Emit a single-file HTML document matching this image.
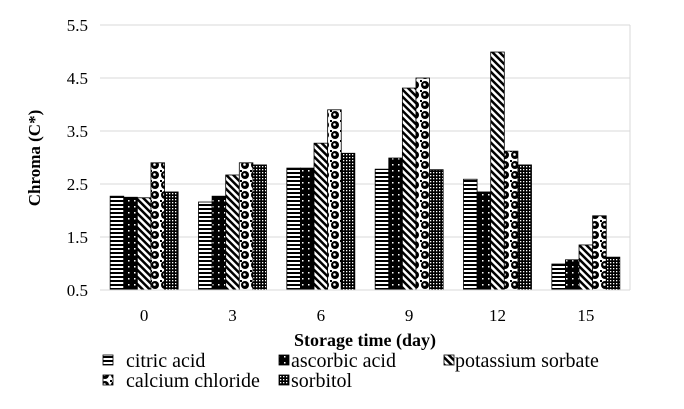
<!DOCTYPE html>
<html><head><meta charset="utf-8"><style>
html,body{margin:0;padding:0;background:#fff;}
svg{display:block;font-family:"Liberation Serif","DejaVu Serif",serif;}
text{font-family:"Liberation Serif","DejaVu Serif",serif;}
</style></head><body>
<svg id="chart" width="684" height="409">
<defs>
<pattern id="p0" width="4" height="4" patternUnits="userSpaceOnUse"><rect width="4" height="4" fill="#fff"/><rect width="4" height="2" fill="#000"/></pattern>
<pattern id="p1" width="6" height="6" patternUnits="userSpaceOnUse"><rect width="6" height="6" fill="#000"/><rect x="2" y="2" width="1.5" height="1.5" fill="#fff"/></pattern>
<pattern id="p2" width="5" height="5" patternUnits="userSpaceOnUse" patternTransform="rotate(-45)"><rect width="5" height="5" fill="#fff"/><rect width="2.5" height="5" fill="#000"/></pattern>
<pattern id="p3" width="10" height="10" patternUnits="userSpaceOnUse"><rect width="10" height="10" fill="#fff"/><circle cx="5" cy="5" r="4" fill="#000"/><circle cx="4.5" cy="4.5" r="1.3" fill="#fff"/><rect x="0" y="0" width="2" height="2" fill="#000"/></pattern>
<pattern id="p4" width="3" height="3" patternUnits="userSpaceOnUse"><rect width="3" height="3" fill="#000"/><rect x="1" y="1" width="1.3" height="1.3" fill="#fff"/></pattern>
</defs>
<g id="grid"></g><g id="bars"></g><g id="axes"></g><g id="legend"></g>
</svg>
<script>
const categories=["0","3","6","9","12","15"];
const seriesNames=["citric acid","ascorbic acid","potassium sorbate","calcium chloride","sorbitol"];
const citric=[2.27,2.16,2.8,2.78,2.59,0.99];
const ascorbic=[2.25,2.27,2.8,2.99,2.35,1.07];
const potassium=[2.24,2.67,3.27,4.31,4.99,1.35];
const calcium=[2.9,2.9,3.9,4.5,3.12,1.9];
const sorbitol=[2.35,2.86,3.08,2.77,2.86,1.12];
const yTicks=[0.5,1.5,2.5,3.5,4.5,5.5];
const series=[citric,ascorbic,potassium,calcium,sorbitol];
const NS="http://www.w3.org/2000/svg";
const FF='"Liberation Serif", serif';
const L=100,R=630,T=25,B=290,yMin=0.5,yMax=5.5;
const y=v=>B-(v-yMin)/(yMax-yMin)*(B-T);
const cw=(R-L)/categories.length, bw=13.6;
const x=i=>L+cw*(i+0.5);
function mk(tag,attrs,parent,text){const e=document.createElementNS(NS,tag);for(const k in attrs)e.setAttribute(k,attrs[k]);if(text!==undefined)e.textContent=text;parent.appendChild(e);return e;}
const grid=document.getElementById('grid'),bars=document.getElementById('bars'),axes=document.getElementById('axes'),leg=document.getElementById('legend');
yTicks.forEach(t=>{
 const l=mk('line',{x1:L,x2:R,y1:y(t),y2:y(t),stroke:'#d9d9d9','stroke-width':1},grid);
 
 
 const tx=mk('text',{x:88,y:y(t)+6,'text-anchor':'end','font-size':17,'font-family':FF},axes,t.toFixed(1));
 
 
});
const rb=mk('line',{x1:R,x2:R,y1:T,y2:B,stroke:'#d9d9d9'},grid);


categories.forEach((c,i)=>{
 series.forEach((s,j)=>{
  const bx=x(i)-bw*2.5+j*bw;
  const r=mk('rect',{x:bx,y:y(s[i]),width:bw,height:B-y(s[i]),fill:'url(#p'+j+')',stroke:'#000','stroke-width':0.8},bars);
  
  
 });
 const tx=mk('text',{x:x(i),y:321,'text-anchor':'middle','font-size':17,'font-family':FF},axes,c);
 
 
});
const ax=mk('line',{x1:L,x2:R,y1:B,y2:B,stroke:'#d9d9d9'},axes);


const xt=mk('text',{x:365,y:346,'text-anchor':'middle','font-size':18,'font-weight':'bold','font-family':FF},axes,'Storage time (day)');


const yt=mk('text',{x:0,y:0,'text-anchor':'middle','font-size':17,'font-weight':'bold','font-family':FF,transform:'translate(40,158) rotate(-90)'},axes,'Chroma (C*)');


const lp=[[102,126,367],[278,291,367],[443,455,367],[102,126,387],[278,291,387]];
seriesNames.forEach((n,j)=>{
 const p=lp[j];
 const g=mk('g',{},leg);
 
 
 mk('rect',{x:p[0]+1,y:p[2]-12,width:10,height:10,fill:'url(#p'+j+')',stroke:'#000','stroke-width':0.8},g);
 mk('text',{x:p[1],y:p[2],'font-size':20,'font-family':FF},g,n);
});
</script>
</body></html>
